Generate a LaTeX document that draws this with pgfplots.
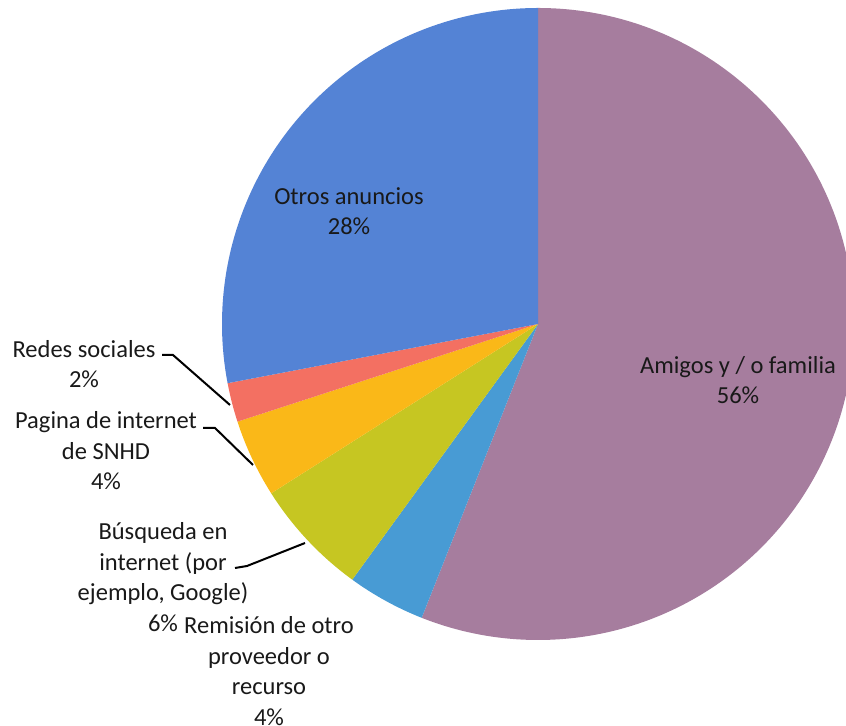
\documentclass[border=0pt]{standalone}
\usepackage{pgfplots}
\usepackage{pgfplotstable}
\pgfplotsset{compat=1.18}
\usepackage{fontspec}
\setmainfont{Carlito}
\definecolor{cAmigos}{RGB}{166,125,158}
\definecolor{cRemision}{RGB}{72,155,212}
\definecolor{cBusqueda}{RGB}{198,198,34}
\definecolor{cPagina}{RGB}{250,184,24}
\definecolor{cRedes}{RGB}{243,112,98}
\definecolor{cOtros}{RGB}{84,131,213}
\definecolor{txt}{RGB}{25,25,25}

% share of each source, in percent, clockwise from 12 o'clock
\pgfplotstableread{
pct
56
4
6
4
2
28
}\piedata

\newcommand\slice[3]{%
  \fill[#3] (axis cs:538,402) -- ([shift={(#1:316bp)}]axis cs:538,402)
     arc[start angle=#1, end angle=#2, radius=316bp] -- cycle;}

\begin{document}
\begin{tikzpicture}
\xdef\cum{0}
\foreach \i in {0,...,5}{%
  \pgfplotstablegetelem{\i}{pct}\of\piedata
  \pgfmathsetmacro\s{90-3.6*\cum}%
  \pgfmathsetmacro\newcum{\cum+\pgfplotsretval}%
  \pgfmathsetmacro\e{90-3.6*\newcum}%
  \expandafter\xdef\csname ps\i\endcsname{\s}%
  \expandafter\xdef\csname pe\i\endcsname{\e}%
  \xdef\cum{\newcum}%
}
\begin{axis}[
  x=1bp, y=1bp,
  xmin=0, xmax=846, ymin=0, ymax=726,
  hide axis, clip=false,
]
\coordinate (bl) at (axis cs:0,0);
\coordinate (tr) at (axis cs:846,726);
\slice{\csname ps0\endcsname}{\csname pe0\endcsname}{cAmigos}
\slice{\csname ps1\endcsname}{\csname pe1\endcsname}{cRemision}
\slice{\csname ps2\endcsname}{\csname pe2\endcsname}{cBusqueda}
\slice{\csname ps3\endcsname}{\csname pe3\endcsname}{cPagina}
\slice{\csname ps4\endcsname}{\csname pe4\endcsname}{cRedes}
\slice{\csname ps5\endcsname}{\csname pe5\endcsname}{cOtros}

\tikzset{lbl/.style={text=txt, align=center, inner sep=0pt,
   font=\fontsize{24.5bp}{30.5bp}\selectfont}}
\node[lbl] at (axis cs:349,515) {Otros anuncios\\28\%};
\node[lbl] at (axis cs:738,346) {Amigos y / o familia\\56\%};
\node[lbl] at (axis cs:84,362) {Redes sociales\\2\%};
\node[lbl] at (axis cs:106,275) {Pagina de internet\\de SNHD\\4\%};
\node[lbl] at (axis cs:163,149) {Búsqueda en\\internet (por\\ejemplo, Google)\\6\%};
\node[lbl] at (axis cs:269,55) {Remisión de otro\\proveedor o\\recurso\\4\%};

\draw[line width=2bp, black] (axis cs:162,371) -- (axis cs:173,371) -- (axis cs:230,321);
\draw[line width=2bp, black] (axis cs:203,298) -- (axis cs:215,298) -- (axis cs:253,261);
\draw[line width=2bp, black] (axis cs:235,158) -- (axis cs:247,160) -- (axis cs:305,183);
\end{axis}
\pgfresetboundingbox
\path[use as bounding box] (bl) rectangle (tr);
\end{tikzpicture}
\end{document}
